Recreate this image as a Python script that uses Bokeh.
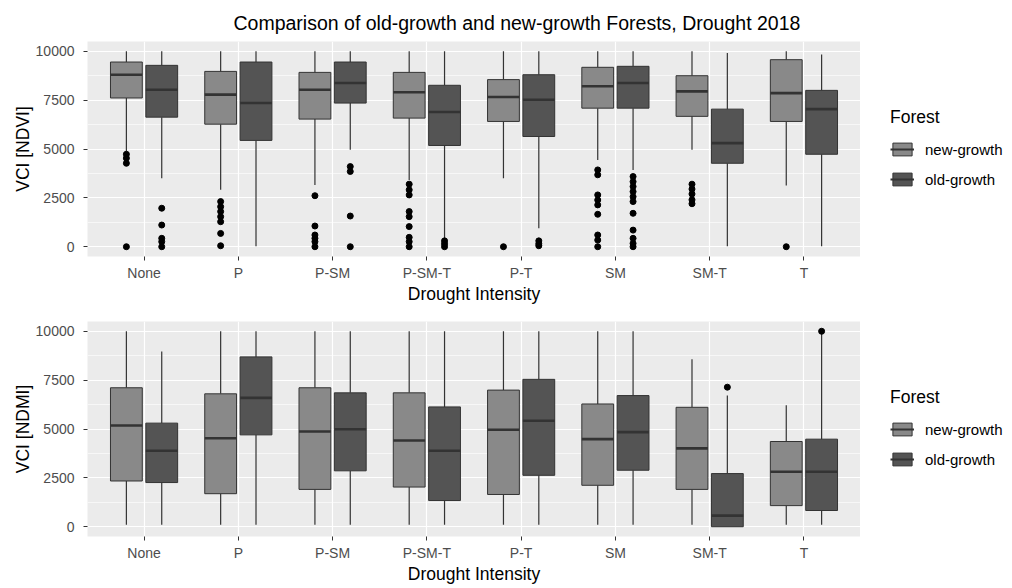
from bokeh.plotting import figure
from bokeh.models import Range1d, FixedTicker, Legend, LegendItem, ColumnDataSource
from bokeh.layouts import column, row
from bokeh.embed import file_html
from bokeh.resources import INLINE

categories = ["None", "P", "P-SM", "P-SM-T", "P-T", "SM", "SM-T", "T"]
series = ["new-growth", "old-growth"]
y_ticks = [0, 2500, 5000, 7500, 10000]
y_minor = [1250, 3750, 6250, 8750]

# ---- VCI [NDVI] ----
ndvi_new_low = [4870, 2910, 3160, 3420, 3500, 4440, 4960, 3130]
ndvi_new_q1 = [7610, 6270, 6530, 6580, 6410, 7090, 6670, 6410]
ndvi_new_med = [8800, 7780, 8030, 7900, 7660, 8210, 7950, 7860]
ndvi_new_q3 = [9450, 8970, 8920, 8920, 8550, 9180, 8750, 9570]
ndvi_new_high = [10000, 10000, 10000, 10000, 10000, 10000, 10000, 10000]
ndvi_new_out = [
    [4730, 4530, 4270, 0],
    [2310, 2050, 1800, 1540, 1280, 680, 50],
    [2610, 1060, 600, 430, 260, 0],
    [3200, 2910, 2650, 1800, 1540, 1030, 480, 260, 0],
    [0],
    [3930, 3680, 2650, 2390, 2140, 1660, 600, 340, 0],
    [3200, 2950, 2700, 2400, 2200],
    [0],
]

ndvi_old_low = [3500, 30, 4960, 380, 940, 3930, 30, 30]
ndvi_old_q1 = [6630, 5440, 7350, 5180, 5640, 7090, 4270, 4730]
ndvi_old_med = [8030, 7350, 8380, 6890, 7520, 8380, 5300, 7040]
ndvi_old_q3 = [9280, 9450, 9450, 8260, 8800, 9230, 7040, 8000]
ndvi_old_high = [10000, 10000, 10000, 10000, 10000, 10000, 9910, 9830]
ndvi_old_out = [
    [1970, 1110, 430, 260, 0],
    [],
    [4100, 3850, 1570, 0],
    [300, 150, 0],
    [300, 150, 50],
    [3590, 3330, 3080, 2820, 2560, 2310, 1710, 850, 430, 170, 0],
    [],
    [],
]

# ---- VCI [NDMI] ----
ndmi_new_low = [100, 100, 100, 100, 100, 100, 100, 100]
ndmi_new_q1 = [2340, 1690, 1910, 2030, 1650, 2120, 1910, 1080]
ndmi_new_med = [5180, 4530, 4870, 4410, 4960, 4480, 4010, 2810]
ndmi_new_q3 = [7110, 6800, 7110, 6850, 6990, 6280, 6110, 4360]
ndmi_new_high = [10000, 10000, 10000, 10000, 10000, 10000, 8570, 6210]
ndmi_new_out = [[], [], [], [], [], [], [], []]

ndmi_old_low = [100, 100, 100, 100, 100, 100, 0, 100]
ndmi_old_q1 = [2260, 4700, 2860, 1340, 2630, 2890, 0, 830]
ndmi_old_med = [3890, 6590, 4990, 3890, 5420, 4840, 570, 2810]
ndmi_old_q3 = [5300, 8690, 6850, 6130, 7540, 6710, 2720, 4480]
ndmi_old_high = [8970, 10000, 10000, 10000, 10000, 10000, 6710, 9950]
ndmi_old_out = [[], [], [], [], [], [], [7140], [10000]]

FONT = "Liberation Sans"
FILLS = ["#898989", "#545454"]
EDGE = "#333333"
OFFSETS = [-0.1875, 0.1875]
BOX_W = 0.3375
MAIN_W = 860
LEG_W = 152


def make_panel(stats, ylabel, height, border_top, title=None):
    p = figure(width=MAIN_W, height=height,
               x_range=Range1d(0.4, 8.6), y_range=Range1d(-500, 10500),
               output_backend="svg", toolbar_location=None,
               min_border_left=87, min_border_right=0,
               min_border_top=border_top, min_border_bottom=51,
               title=title)
    p.background_fill_color = "#EBEBEB"
    p.border_fill_color = "white"
    p.outline_line_color = None

    if title is not None:
        p.title.align = "left"
        p.title.offset = 146
        p.title.text_font = FONT
        p.title.text_font_size = "19.5px"
        p.title.text_font_style = "normal"
        p.title.text_color = "black"
        p.title.standoff = 16

    for k, (low, q1, med, q3, high, outs) in enumerate(stats):
        xs = [i + 1 + OFFSETS[k] for i in range(len(categories))]
        src = ColumnDataSource(dict(
            x=xs, left=[x - BOX_W / 2 for x in xs], right=[x + BOX_W / 2 for x in xs],
            low=low, q1=q1, med=med, q3=q3, high=high))
        p.segment(x0="x", y0="q3", x1="x", y1="high", source=src,
                  line_color=EDGE, line_width=1.2)
        p.segment(x0="x", y0="low", x1="x", y1="q1", source=src,
                  line_color=EDGE, line_width=1.2)
        p.quad(left="left", right="right", bottom="q1", top="q3", source=src,
               fill_color=FILLS[k], line_color=EDGE, line_width=1)
        p.segment(x0="left", y0="med", x1="right", y1="med", source=src,
                  line_color=EDGE, line_width=2.6)
        ox, oy = [], []
        for i, vals in enumerate(outs):
            for v in vals:
                ox.append(xs[i])
                oy.append(v)
        p.scatter(ox, oy, size=6, color="black")

    p.xaxis.ticker = FixedTicker(ticks=list(range(1, len(categories) + 1)))
    p.xaxis.major_label_overrides = {i + 1: c for i, c in enumerate(categories)}
    p.yaxis.ticker = FixedTicker(ticks=y_ticks, minor_ticks=y_minor)

    for ax in (p.xaxis, p.yaxis):
        ax.axis_line_color = None
        ax.major_tick_line_color = EDGE
        ax.major_tick_in = 0
        ax.major_tick_out = 4
        ax.minor_tick_line_color = None
        ax.major_label_text_font = FONT
        ax.major_label_text_font_size = "14px"
        ax.major_label_text_color = "#4D4D4D"
        ax.axis_label_text_font = FONT
        ax.axis_label_text_font_size = "17.5px"
        ax.axis_label_text_font_style = "normal"
        ax.axis_label_text_color = "black"
    p.xaxis.axis_label = "Drought Intensity"
    p.xaxis.major_label_standoff = 4
    p.xaxis.axis_label_standoff = 0
    p.yaxis.axis_label = ylabel
    p.yaxis.major_label_standoff = 9
    p.yaxis.axis_label_standoff = 0

    p.xgrid.grid_line_color = "white"
    p.xgrid.grid_line_width = 1.2
    p.ygrid.grid_line_color = "white"
    p.ygrid.grid_line_width = 1.2
    p.ygrid.minor_grid_line_color = "white"
    p.ygrid.minor_grid_line_width = 0.6
    return p


def make_legend(height):
    # legend-only figure; its frame is aligned with the neighbouring panel's frame
    lp = figure(width=LEG_W, height=height,
                x_range=Range1d(0, 1), y_range=Range1d(0, 1),
                output_backend="svg", toolbar_location=None,
                min_border=0, x_axis_type=None, y_axis_type=None)
    lp.outline_line_color = None
    lp.grid.visible = False
    lp.background_fill_color = "white"
    items = []
    for k, name in enumerate(series):
        # placeholder glyphs kept outside the visible range: only their legend keys show
        dummy = ColumnDataSource(dict(l=[5], r=[6], b=[5], t=[6], m=[5.5]))
        box = lp.quad(left="l", right="r", bottom="b", top="t", source=dummy,
                      fill_color=FILLS[k], line_color=EDGE, line_width=1)
        med = lp.segment(x0="l", y0="m", x1="r", y1="m", source=dummy,
                         line_color=EDGE, line_width=2)
        items.append(LegendItem(label=name, renderers=[box, med]))
    legend = Legend(items=items, location=(30, 67), title="Forest",
                    margin=0, padding=0, spacing=10,
                    glyph_width=24, glyph_height=16, label_height=20,
                    label_standoff=11, title_standoff=11,
                    border_line_color=None, background_fill_alpha=0,
                    label_text_font=FONT, label_text_font_size="15px",
                    label_text_color="black",
                    title_text_font=FONT, title_text_font_size="17.5px",
                    title_text_font_style="normal", title_text_color="black")
    lp.add_layout(legend, "center")
    return lp


top = make_panel(
    [(ndvi_new_low, ndvi_new_q1, ndvi_new_med, ndvi_new_q3, ndvi_new_high, ndvi_new_out),
     (ndvi_old_low, ndvi_old_q1, ndvi_old_med, ndvi_old_q3, ndvi_old_high, ndvi_old_out)],
    "VCI [NDVI]", 307, 41,
    title="Comparison of old-growth and new-growth Forests, Drought 2018")
bottom = make_panel(
    [(ndmi_new_low, ndmi_new_q1, ndmi_new_med, ndmi_new_q3, ndmi_new_high, ndmi_new_out),
     (ndmi_old_low, ndmi_old_q1, ndmi_old_med, ndmi_old_q3, ndmi_old_high, ndmi_old_out)],
    "VCI [NDMI]", 280, 14)

layout = column(row(top, make_legend(307), spacing=0),
                row(bottom, make_legend(280), spacing=0), spacing=0)
open("out.html", "w").write(file_html(layout, INLINE))
